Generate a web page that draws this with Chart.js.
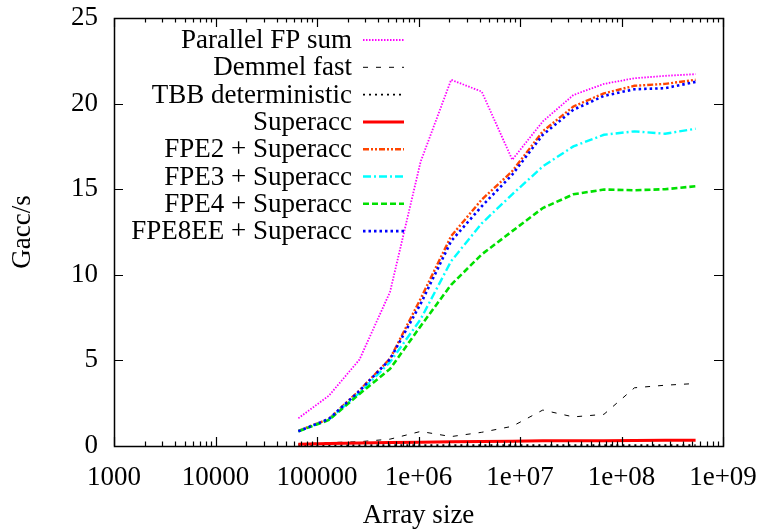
<!DOCTYPE html>
<html>
<head>
<meta charset="utf-8">
<script src="https://cdn.jsdelivr.net/npm/chart.js@4"></script>
<style>
  html, body { margin: 0; padding: 0; background: #fff; }
</style>
</head>
<body>
<canvas id="grafico" width="763" height="529"></canvas>
<script>
// array sizes (2^16 .. 2^29)
const tamanhos = [65536, 131072, 262144, 524288, 1048576, 2097152, 4194304, 8388608,
  16777216, 33554432, 67108864, 134217728, 268435456, 536870912];

// Gacc/s
const parallelFP = [1.62, 2.94, 5.05, 9.0, 16.6, 21.39, 20.7, 16.72, 18.96, 20.5, 21.15, 21.48, 21.62, 21.72];
const demmelFast = [0.12, 0.2, 0.25, 0.4, 0.85, 0.55, 0.8, 1.15, 2.1, 1.7, 1.85, 3.4, 3.55, 3.65];
const tbbDet = [0.05, 0.05, 0.05, 0.05, 0.05, 0.05, 0.05, 0.05, 0.05, 0.05, 0.05, 0.05, 0.05, 0.05];
const superacc = [0.1, 0.14, 0.17, 0.2, 0.22, 0.25, 0.27, 0.28, 0.3, 0.3, 0.31, 0.32, 0.33, 0.33];
const fpe2 = [0.89, 1.58, 3.25, 5.1, 8.6, 12.26, 14.39, 16.05, 18.38, 19.83, 20.6, 21.04, 21.15, 21.39];
const fpe3 = [0.87, 1.55, 3.1, 4.9, 7.4, 10.8, 13.0, 14.7, 16.33, 17.5, 18.18, 18.38, 18.24, 18.53];
const fpe4 = [0.86, 1.52, 3.04, 4.5, 7.0, 9.42, 11.19, 12.55, 13.9, 14.7, 14.98, 14.94, 15.0, 15.17];
const fpe8ee = [0.86, 1.58, 3.22, 5.07, 8.3, 11.97, 14.0, 15.85, 18.18, 19.64, 20.45, 20.84, 20.9, 21.27];

const nomes = ['Parallel FP sum', 'Demmel fast', 'TBB deterministic', 'Superacc',
  'FPE2 + Superacc', 'FPE3 + Superacc', 'FPE4 + Superacc', 'FPE8EE + Superacc'];

const xTicks = [1000, 10000, 100000, 1e6, 1e7, 1e8, 1e9];
const xTickLabels = ['1000', '10000', '100000', '1e+06', '1e+07', '1e+08', '1e+09'];
const yTicks = [0, 5, 10, 15, 20, 25];

window.onload = function() {
  const fonte = "'Liberation Serif', 'Times New Roman', serif";
  Chart.defaults.font.family = fonte;
  Chart.defaults.font.size = 27;
  Chart.defaults.color = '#000';

  function pontos(valores) {
    return valores.map((v, i) => ({ x: tamanhos[i], y: v }));
  }

  const estilos = [
    { cor: '#ff00ff', largura: 1.8, traco: [1.5, 1.5] },
    { cor: '#000000', largura: 1, traco: [5, 8] },
    { cor: '#000000', largura: 1.6, traco: [2, 4] },
    { cor: '#ff0000', largura: 3, traco: [] },
    { cor: '#ff4500', largura: 2.4, traco: [6, 2, 2, 2, 2, 2] },
    { cor: '#00ffff', largura: 2.4, traco: [8, 3, 2, 3] },
    { cor: '#00e000', largura: 2.6, traco: [6, 3] },
    { cor: '#0000ff', largura: 2.6, traco: [2.5, 3] }
  ];
  const series = [parallelFP, demmelFast, tbbDet, superacc, fpe2, fpe3, fpe4, fpe8ee];

  const datasets = series.map((s, i) => ({
    label: nomes[i],
    data: pontos(s),
    borderColor: estilos[i].cor,
    borderWidth: estilos[i].largura,
    borderDash: estilos[i].traco,
    pointRadius: 0,
    tension: 0,
    fill: false,
    order: series.length - i
  }));

  // frame, inward ticks and the gnuplot style key
  const moldura = {
    id: 'moldura',
    afterDraw(chart) {
      const ctx = chart.ctx;
      const a = chart.chartArea;
      const sx = chart.scales.x, sy = chart.scales.y;
      ctx.save();
      ctx.strokeStyle = '#000';
      ctx.lineWidth = 1.2;
      ctx.setLineDash([]);
      ctx.beginPath();
      xTicks.forEach((t, k) => {
        const px = Math.round(sx.getPixelForValue(t)) + 0.5;
        ctx.moveTo(px, a.bottom); ctx.lineTo(px, a.bottom - 9);
        ctx.moveTo(px, a.top); ctx.lineTo(px, a.top + 9);
        if (k < xTicks.length - 1) {
          for (let m = 2; m <= 9; m++) {
            const pm = Math.round(sx.getPixelForValue(t * m)) + 0.5;
            ctx.moveTo(pm, a.bottom); ctx.lineTo(pm, a.bottom - 4.5);
            ctx.moveTo(pm, a.top); ctx.lineTo(pm, a.top + 4.5);
          }
        }
      });
      yTicks.forEach(t => {
        const py = Math.round(sy.getPixelForValue(t)) + 0.5;
        ctx.moveTo(a.left, py); ctx.lineTo(a.left + 9, py);
        ctx.moveTo(a.right, py); ctx.lineTo(a.right - 9, py);
      });
      ctx.stroke();
      ctx.lineWidth = 1.5;
      ctx.strokeRect(Math.round(a.left) + 0.5, Math.round(a.top) + 0.5,
        Math.round(a.right - a.left), Math.round(a.bottom - a.top));

      // key
      ctx.font = '27px ' + fonte;
      ctx.fillStyle = '#000';
      ctx.textAlign = 'right';
      ctx.textBaseline = 'middle';
      chart.data.datasets.forEach((ds, i) => {
        const yy = 40 + i * 27.3;
        ctx.fillText(ds.label, 352, yy + 1);
        ctx.strokeStyle = ds.borderColor;
        ctx.lineWidth = ds.borderWidth;
        ctx.setLineDash(ds.borderDash);
        ctx.beginPath();
        ctx.moveTo(363, yy);
        ctx.lineTo(404, yy);
        ctx.stroke();
      });
      ctx.restore();
    }
  };

  new Chart(document.getElementById('grafico'), {
    type: 'line',
    data: { datasets: datasets },
    options: {
      responsive: false,
      animation: false,
      devicePixelRatio: 1,
      layout: { padding: { left: 0, right: 40, top: 18, bottom: 0 } },
      plugins: { legend: { display: false }, tooltip: { enabled: false } },
      scales: {
        x: {
          type: 'logarithmic',
          min: 1000,
          max: 1e9,
          grid: { display: false },
          border: { display: false },
          afterBuildTicks: s => { s.ticks = xTicks.map(v => ({ value: v })); },
          afterFit: s => { s.height = 83; s.paddingLeft = 0; s.paddingRight = 0; },
          ticks: {
            padding: 8,
            maxRotation: 0,
            autoSkip: false,
            callback: (v) => xTickLabels[xTicks.indexOf(v)]
          },
          title: { display: true, text: 'Array size', padding: 0, font: { lineHeight: 1 } }
        },
        y: {
          min: 0,
          max: 25,
          grid: { display: false },
          border: { display: false },
          afterBuildTicks: s => { s.ticks = yTicks.map(v => ({ value: v })); },
          afterFit: s => { s.width = 114; s.paddingTop = 0; s.paddingBottom = 0; },
          ticks: { padding: 8 },
          title: { display: true, text: 'Gacc/s', padding: { top: 9, bottom: 0 }, font: { lineHeight: 1 } }
        }
      }
    },
    plugins: [moldura]
  });
};
</script>
</body>
</html>
